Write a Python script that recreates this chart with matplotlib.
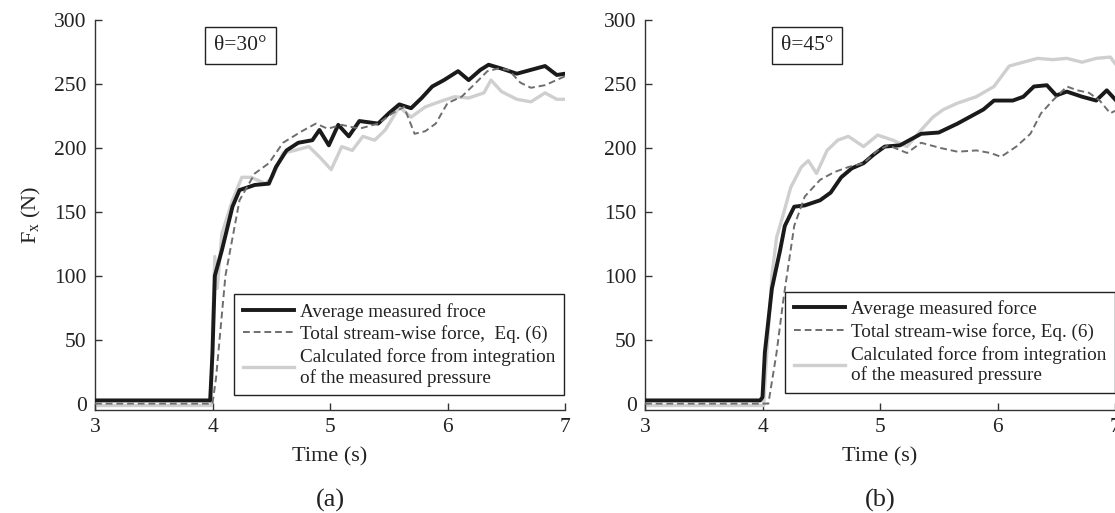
import matplotlib
matplotlib.use("Agg")
import matplotlib.pyplot as plt

plt.rcParams['font.family'] = ['Liberation Serif', 'DejaVu Serif']
plt.rcParams['mathtext.fontset'] = 'custom'
plt.rcParams['mathtext.rm'] = 'Liberation Serif'
plt.rcParams['mathtext.it'] = 'Liberation Serif'

# ---- (a) theta = 30 deg ----
t_meas_a = [3.0, 3.98, 4.0, 4.02, 4.08, 4.17, 4.23, 4.36, 4.48, 4.54, 4.63, 4.73, 4.85, 4.91,
            4.99, 5.07, 5.16, 5.25, 5.41, 5.50, 5.59, 5.69, 5.78, 5.87, 5.97, 6.09, 6.18,
            6.28, 6.35, 6.46, 6.59, 6.71, 6.83, 6.93, 7.0]
f_meas_a = [2.5, 2.5, 40, 100, 120, 154, 167, 171, 172, 185, 198, 204, 206, 214,
            202, 218, 209, 221, 219, 227, 234, 231, 239, 248, 253, 260, 253,
            261, 265, 262, 258, 261, 264, 257, 258]

t_eq_a = [3.0, 4.0, 4.03, 4.11, 4.23, 4.36, 4.48, 4.60, 4.76, 4.88, 4.98, 5.10, 5.25, 5.41,
          5.53, 5.63, 5.72, 5.81, 5.90, 6.00, 6.12, 6.21, 6.34, 6.43, 6.52, 6.62, 6.71,
          6.83, 7.0]
f_eq_a = [0.0, 0.0, 20, 100, 159, 180, 188, 204, 213, 219, 215, 218, 215, 219,
          227, 232, 211, 213, 219, 235, 240, 248, 260, 262, 261, 251, 247,
          249, 256]

t_prs_a = [3.0, 3.99, 4.0, 4.02, 4.04, 4.08, 4.17, 4.25, 4.33, 4.45, 4.51, 4.60, 4.70, 4.82,
           4.91, 5.01, 5.10, 5.19, 5.28, 5.38, 5.47, 5.59, 5.69, 5.81, 5.93, 6.06, 6.18,
           6.31, 6.37, 6.46, 6.59, 6.71, 6.83, 6.93, 7.0]
f_prs_a = [-1.5, -1.5, 60, 115, 90, 133, 159, 177, 177, 172, 177, 196, 198, 201,
           193, 183, 201, 198, 209, 206, 214, 232, 224, 232, 236, 240, 239,
           243, 253, 244, 238, 236, 243, 238, 238]

# ---- (b) theta = 45 deg ----
t_meas_b = [3.0, 3.98, 4.0, 4.02, 4.08, 4.15, 4.19, 4.27, 4.36, 4.49, 4.58, 4.67, 4.76, 4.86,
            4.95, 5.04, 5.17, 5.35, 5.50, 5.66, 5.76, 5.88, 5.97, 6.13, 6.22, 6.31, 6.42,
            6.50, 6.59, 6.72, 6.84, 6.93, 7.0]
f_meas_b = [2.5, 2.5, 5, 40, 90, 120, 139, 154, 155, 159, 165, 177, 184, 188,
            195, 201, 202, 211, 212, 219, 224, 230, 237, 237, 240, 248, 249,
            241, 244, 240, 237, 245, 238]

t_eq_b = [3.0, 4.0, 4.05, 4.12, 4.18, 4.27, 4.36, 4.49, 4.61, 4.73, 4.86, 4.98, 5.07, 5.23,
          5.35, 5.51, 5.66, 5.82, 5.94, 6.03, 6.16, 6.28, 6.37, 6.47, 6.59, 6.68, 6.78,
          6.87, 6.96, 7.0]
f_eq_b = [0.0, 0.0, 0, 40, 83, 139, 162, 175, 181, 185, 188, 198, 202, 196,
          204, 200, 197, 198, 196, 193, 201, 211, 227, 237, 248, 245, 243,
          237, 227, 229]

t_prs_b = [3.0, 4.01, 4.03, 4.08, 4.12, 4.18, 4.24, 4.33, 4.39, 4.46, 4.55, 4.64, 4.73, 4.86,
           4.98, 5.11, 5.23, 5.35, 5.45, 5.54, 5.66, 5.82, 5.97, 6.10, 6.22, 6.34, 6.47,
           6.59, 6.72, 6.84, 6.96, 7.0]
f_prs_b = [-1.5, -1.5, 30, 100, 130, 149, 169, 185, 190, 180, 198, 206, 209, 201,
           210, 206, 201, 214, 224, 230, 235, 240, 248, 264, 267, 270, 269,
           270, 267, 270, 271, 266]

yticks = [0, 50, 100, 150, 200, 250, 300]
xticks = [3, 4, 5, 6, 7]

panels = [
    dict(pos=[95 / 1115, 103 / 513, 470 / 1115, 390 / 513], label='(a)', theta='θ=30°',
         theta_xy=(4.24, 280), leg_x=0.296, leg_y=0.038,
         names=['Average measured froce', 'Total stream-wise force,  Eq. (6)',
                'Calculated force from integration\nof the measured pressure'],
         data=[(t_meas_a, f_meas_a), (t_eq_a, f_eq_a), (t_prs_a, f_prs_a)], ylab=True),
    dict(pos=[645 / 1115, 103 / 513, 470 / 1115, 390 / 513], label='(b)', theta='θ=45°',
         theta_xy=(4.38, 280), leg_x=0.298, leg_y=0.044,
         names=['Average measured force', 'Total stream-wise force, Eq. (6)',
                'Calculated force from integration\nof the measured pressure'],
         data=[(t_meas_b, f_meas_b), (t_eq_b, f_eq_b), (t_prs_b, f_prs_b)], ylab=False),
]

fig = plt.figure(figsize=(11.15, 5.13), dpi=100)

for p in panels:
    ax = fig.add_axes(p['pos'])
    (t1, f1), (t2, f2), (t3, f3) = p['data']
    l1, = ax.plot(t1, f1, color='#1a1a1a', lw=2.8, zorder=3)
    l2, = ax.plot(t2, f2, color='#6e6e6e', lw=1.4, ls=(0, (3.5, 2)), zorder=4)
    l3, = ax.plot(t3, f3, color='#cfcfcf', lw=2.4, zorder=2)

    ax.set_xlim(3, 7)
    ax.set_ylim(-5, 300)
    ax.set_xticks(xticks)
    ax.set_yticks(yticks)
    for s in ['top', 'right']:
        ax.spines[s].set_visible(False)
    for s in ['left', 'bottom']:
        ax.spines[s].set_color('#333333')
        ax.spines[s].set_linewidth(1.0)
    ax.tick_params(direction='in', length=5, width=1, color='#333333',
                   labelsize=15.5, labelcolor='#222222', pad=6)

    ax.set_xlabel('Time (s)', fontsize=16, color='#222222', labelpad=7)
    if p['ylab']:
        ax.set_ylabel(r'$\mathrm{F_x}$ (N)', fontsize=16, color='#222222', labelpad=8)

    ax.text(p['theta_xy'][0], p['theta_xy'][1], p['theta'], fontsize=15.5, ha='center',
            va='center', color='#222222',
            bbox=dict(boxstyle='square,pad=0.42', fc='white', ec='#222222', lw=1.0))

    leg = ax.legend([l1, l2, l3], p['names'], loc='lower left',
                    bbox_to_anchor=(p['leg_x'], p['leg_y']), borderaxespad=0,
                    fontsize=13.8, frameon=True, fancybox=False, framealpha=1,
                    edgecolor='#222222', handlelength=2.7, handletextpad=0.3,
                    labelspacing=0.25, borderpad=0.45)
    leg.get_frame().set_linewidth(1.0)
    for txt in leg.get_texts():
        txt.set_color('#222222')

    cx = p['pos'][0] + p['pos'][2] / 2
    fig.text(cx, 1 - 500 / 513, p['label'], fontsize=19, ha='center', va='center',
             color='#222222')

fig.savefig('out.png', dpi=100)
